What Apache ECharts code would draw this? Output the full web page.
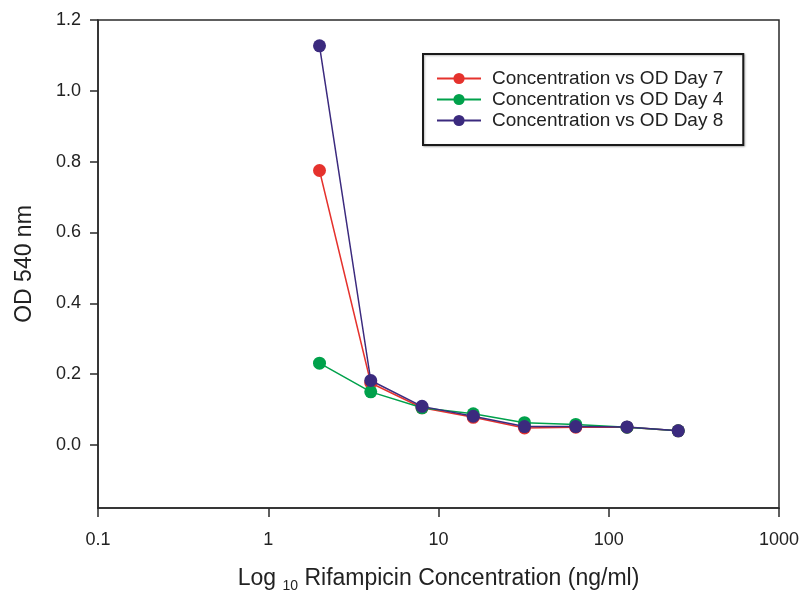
<!DOCTYPE html>
<html>
<head>
<meta charset="utf-8">
<title>Rifampicin concentration vs OD 540 nm</title>
<script src="https://cdn.jsdelivr.net/npm/echarts@6/dist/echarts.min.js"></script>
<style>
  html, body { margin: 0; padding: 0; background: #ffffff; }
  #chart { width: 803px; height: 591px; }
</style>
</head>
<body>
<div id="chart"></div>
<script>
// Two-fold dilution series of rifampicin (ng/ml)
const concentrations = [2, 4, 8, 16, 32, 64, 128, 256];

// OD 540 nm readings per day
const odDay7 = [0.775, 0.175, 0.105, 0.078, 0.048, 0.050, 0.050, 0.040];
const odDay4 = [0.231, 0.150, 0.105, 0.088, 0.063, 0.058, 0.050, 0.040];
const odDay8 = [1.127, 0.182, 0.109, 0.081, 0.052, 0.052, 0.051, 0.040];

const seriesNames = [
  'Concentration vs OD Day 7',
  'Concentration vs OD Day 4',
  'Concentration vs OD Day 8'
];
const seriesColors = ['#e5322d', '#00a14b', '#3b2a7e'];
const seriesValues = [odDay7, odDay4, odDay8];

const xTickValues = [0.1, 1, 10, 100, 1000];
const yTickValues = [0.0, 0.2, 0.4, 0.6, 0.8, 1.0, 1.2];

const FONT = '"Liberation Sans", Arial, sans-serif';
const INK = '#222222';
const AXIS = '#2a2a2a';

const chart = echarts.init(document.getElementById('chart'), null, { renderer: 'canvas' });

const series = seriesNames.map((name, i) => ({
  name: name,
  type: 'line',
  data: concentrations.map((c, k) => [c, seriesValues[i][k]]),
  symbol: 'circle',
  symbolSize: 13,
  showSymbol: true,
  itemStyle: { color: seriesColors[i] },
  lineStyle: { color: seriesColors[i], width: 1.5 },
  emphasis: { disabled: true },
  animation: false,
  z: 2 + i
}));

chart.setOption({
  backgroundColor: '#ffffff',
  animation: false,
  textStyle: { fontFamily: FONT },
  grid: {
    left: 98, right: 24, top: 20, bottom: 83,
    outerBoundsMode: 'none',
    containLabel: false,
    show: true,
    borderColor: AXIS,
    borderWidth: 1.5,
    backgroundColor: 'transparent'
  },
  legend: {
    orient: 'vertical',
    left: 423,
    top: 54,
    padding: [15, 20, 15, 13],
    itemGap: 2,
    itemWidth: 44,
    itemHeight: 14,
    borderColor: '#1a1a1a',
    borderWidth: 2,
    backgroundColor: '#ffffff',
    shadowColor: 'rgba(0,0,0,0.25)',
    shadowBlur: 2,
    shadowOffsetX: 1,
    shadowOffsetY: 1,
    selectedMode: false,
    textStyle: {
      fontFamily: FONT,
      fontSize: 19,
      color: INK,
      padding: [0, 0, 0, 6]
    },
    data: seriesNames
  },
  xAxis: {
    type: 'log',
    logBase: 10,
    min: 0.1,
    max: 1000,
    name: '{n|Log }{s|10}{n| Rifampicin Concentration (ng/ml)}',
    nameLocation: 'middle',
    nameGap: 59,
    nameTextStyle: {
      color: INK,
      fontFamily: FONT,
      rich: {
        n: { fontSize: 23, verticalAlign: 'bottom', padding: [0, 0, 3, 0], color: INK, fontFamily: FONT },
        s: { fontSize: 14, verticalAlign: 'bottom', color: INK, fontFamily: FONT }
      }
    },
    axisLine: { show: true, onZero: false, lineStyle: { color: AXIS, width: 1.5 } },
    axisTick: { show: true, inside: false, length: 9, lineStyle: { color: AXIS, width: 1.5 } },
    minorTick: { show: false },
    splitLine: { show: false },
    axisLabel: {
      show: true,
      margin: 23,
      fontSize: 18,
      color: INK,
      fontFamily: FONT,
      showMinLabel: true,
      showMaxLabel: true,
      formatter: function (v) {
        const r = xTickValues.find(t => Math.abs(Math.log10(t) - Math.log10(v)) < 1e-6);
        return r === undefined ? '' : String(r);
      }
    }
  },
  yAxis: {
    type: 'value',
    min: -0.178,
    max: 1.2,
    name: 'OD 540 nm',
    nameLocation: 'middle',
    nameGap: 62,
    nameRotate: 90,
    nameTextStyle: { fontSize: 23, color: INK, fontFamily: FONT },
    axisLine: { show: true, onZero: false, lineStyle: { color: AXIS, width: 1.5 } },
    axisTick: {
      show: true, inside: false, length: 8,
      lineStyle: { color: AXIS, width: 1.5 },
      customValues: yTickValues
    },
    splitLine: { show: false },
    axisLabel: {
      show: true,
      margin: 17,
      fontSize: 18,
      color: INK,
      fontFamily: FONT,
      customValues: yTickValues,
      formatter: function (v) { return Number(v).toFixed(1); }
    }
  },
  series: series
});
</script>
</body>
</html>
